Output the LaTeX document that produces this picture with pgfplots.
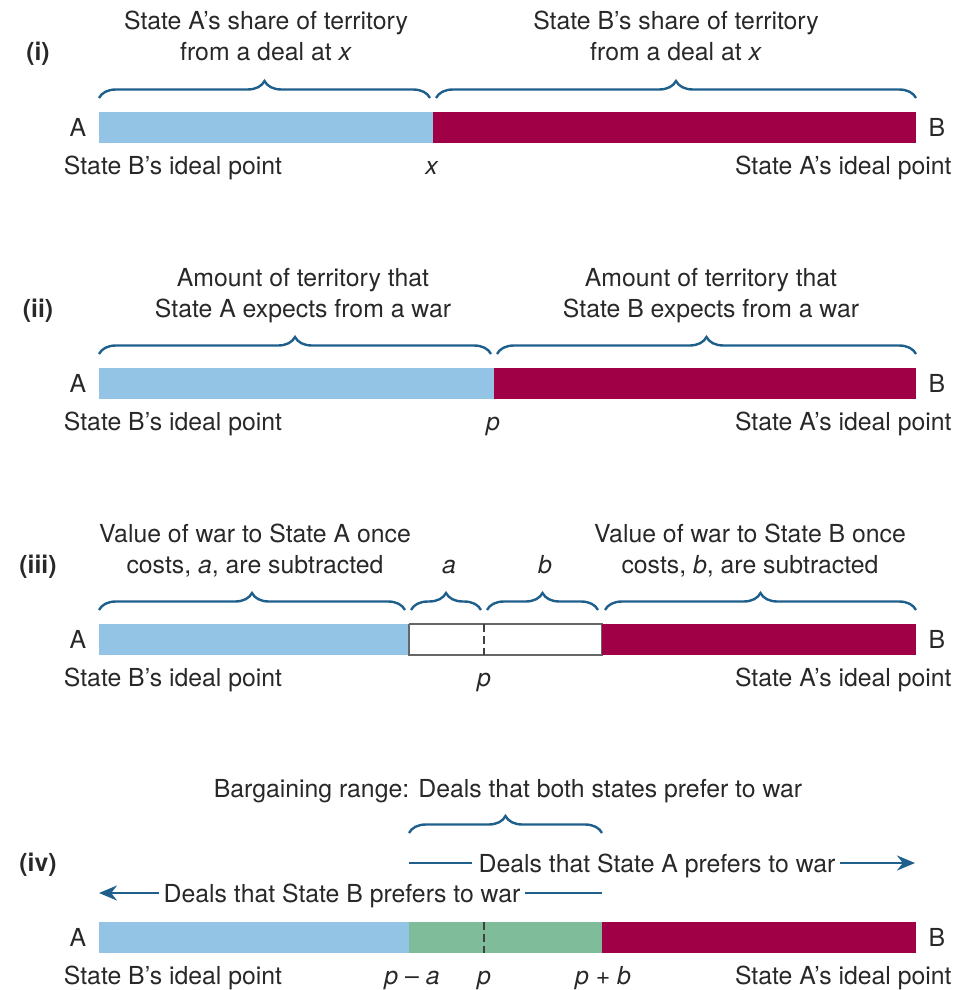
\documentclass[border=0pt]{standalone}
\usepackage{pgfplots}
\pgfplotsset{compat=1.18}
\usetikzlibrary{decorations.pathreplacing,arrows.meta}
\usepackage{fontspec}
\setmainfont{TeX Gyre Heros}
\definecolor{lblue}{RGB}{147,196,230}
\definecolor{wred}{RGB}{160,0,70}
\definecolor{lgreen}{RGB}{127,188,154}
\definecolor{brc}{RGB}{30,95,140}
\definecolor{txt}{RGB}{40,40,40}
\begin{document}
\begin{tikzpicture}[
  lab/.style={font=\fontsize{12.4}{14}\selectfont, text=txt, anchor=base, inner sep=0pt},
  brc/.style={decorate, decoration={brace, amplitude=8.5pt, raise=0pt}, draw=brc, line width=1.2pt},
  arr/.style={draw=brc, line width=1.2pt}
]
\begin{axis}[scale only axis, width=479.5pt, height=495pt,
  xmin=0, xmax=959, ymin=0, ymax=990, y dir=reverse, hide axis, clip=false]
\path (axis cs:0,0) rectangle (axis cs:959,990);
% ---------- Panel (i) ----------
\addplot[fill=lblue, draw=none] coordinates {(99,112) (433,112) (433,143) (99,143)};
\addplot[fill=wred, draw=none] coordinates {(433,112) (916,112) (916,143) (433,143)};
\draw[brc] (axis cs:99,98) -- (axis cs:430,98);
\draw[brc] (axis cs:436,98) -- (axis cs:916,98);
\node[lab] at (axis cs:266,30) {State A’s share of territory};
\node[lab] at (axis cs:266,61) {from a deal at \textit{x}};
\node[lab] at (axis cs:676,30) {State B’s share of territory};
\node[lab] at (axis cs:676,61) {from a deal at \textit{x}};
\node[lab, font=\fontsize{12.4}{14}\selectfont\bfseries] at (axis cs:38,61) {(i)};
\node[lab] at (axis cs:78,136) {A};
\node[lab] at (axis cs:937,136) {B};
\node[lab] at (axis cs:173,174) {State B’s ideal point};
\node[lab] at (axis cs:432,174) {\textit{x}};
\node[lab, anchor=base east] at (axis cs:952,174) {State A’s ideal point};
% ---------- Panel (ii) ----------
\addplot[fill=lblue, draw=none] coordinates {(99,368) (494,368) (494,399) (99,399)};
\addplot[fill=wred, draw=none] coordinates {(494,368) (916,368) (916,399) (494,399)};
\draw[brc] (axis cs:99,354) -- (axis cs:491,354);
\draw[brc] (axis cs:497,354) -- (axis cs:916,354);
\node[lab] at (axis cs:303,286) {Amount of territory that};
\node[lab] at (axis cs:303,317) {State A expects from a war};
\node[lab] at (axis cs:711,286) {Amount of territory that};
\node[lab] at (axis cs:711,317) {State B expects from a war};
\node[lab, font=\fontsize{12.4}{14}\selectfont\bfseries] at (axis cs:38,317) {(ii)};
\node[lab] at (axis cs:78,392) {A};
\node[lab] at (axis cs:937,392) {B};
\node[lab] at (axis cs:173,430) {State B’s ideal point};
\node[lab] at (axis cs:493,430) {\textit{p}};
\node[lab, anchor=base east] at (axis cs:952,430) {State A’s ideal point};
% ---------- Panel (iii) ----------
\addplot[fill=lblue, draw=none] coordinates {(99,624) (409,624) (409,655) (99,655)};
\addplot[fill=white, draw=gray!80!black, line width=0.8pt] coordinates {(409,624) (602,624) (602,655) (409,655) (409,624)};
\addplot[fill=wred, draw=none] coordinates {(602,624) (916,624) (916,655) (602,655)};
\addplot[draw=black!75, line width=0.8pt, dash pattern=on 4pt off 2pt] coordinates {(484,624) (484,655)};
\draw[brc] (axis cs:99,610) -- (axis cs:405,610);
\draw[brc] (axis cs:411,610) -- (axis cs:481,610);
\draw[brc] (axis cs:487,610) -- (axis cs:598,610);
\draw[brc] (axis cs:605,610) -- (axis cs:916,610);
\node[lab] at (axis cs:255,542) {Value of war to State A once};
\node[lab] at (axis cs:255,573) {costs, \textit{a}, are subtracted};
\node[lab] at (axis cs:449,573) {\textit{a}};
\node[lab] at (axis cs:545,573) {\textit{b}};
\node[lab] at (axis cs:750,542) {Value of war to State B once};
\node[lab] at (axis cs:750,573) {costs, \textit{b}, are subtracted};
\node[lab, font=\fontsize{12.4}{14}\selectfont\bfseries] at (axis cs:38,573) {(iii)};
\node[lab] at (axis cs:78,648) {A};
\node[lab] at (axis cs:937,648) {B};
\node[lab] at (axis cs:173,686) {State B’s ideal point};
\node[lab] at (axis cs:484,686) {\textit{p}};
\node[lab, anchor=base east] at (axis cs:952,686) {State A’s ideal point};
% ---------- Panel (iv) ----------
\addplot[fill=lblue, draw=none] coordinates {(99,922) (409,922) (409,953) (99,953)};
\addplot[fill=lgreen, draw=none] coordinates {(409,922) (602,922) (602,953) (409,953)};
\addplot[fill=wred, draw=none] coordinates {(602,922) (916,922) (916,953) (602,953)};
\addplot[draw=black!75, line width=0.8pt, dash pattern=on 4pt off 2pt] coordinates {(484,922) (484,953)};
\draw[brc] (axis cs:409,833) -- (axis cs:602,833);
\node[lab] at (axis cs:508,797) {Bargaining range: Deals that both states prefer to war};
\node[lab] at (axis cs:657,872) {Deals that State A prefers to war};
\draw[arr] (axis cs:409,863) -- (axis cs:472,863);
\draw[arr, -{Stealth[length=9pt,width=7.5pt]}] (axis cs:840,863) -- (axis cs:915,863);
\node[lab] at (axis cs:342,902) {Deals that State B prefers to war};
\draw[arr, -{Stealth[length=9pt,width=7.5pt]}] (axis cs:159,893) -- (axis cs:99,893);
\draw[arr] (axis cs:525,893) -- (axis cs:602,893);
\node[lab, font=\fontsize{12.4}{14}\selectfont\bfseries] at (axis cs:38,871) {(iv)};
\node[lab] at (axis cs:78,946) {A};
\node[lab] at (axis cs:937,946) {B};
\node[lab] at (axis cs:173,984) {State B’s ideal point};
\node[lab] at (axis cs:412,984) {\textit{p} – \textit{a}};
\node[lab] at (axis cs:484,984) {\textit{p}};
\node[lab] at (axis cs:603,984) {\textit{p} + \textit{b}};
\node[lab, anchor=base east] at (axis cs:952,984) {State A’s ideal point};
\end{axis}
\end{tikzpicture}
\end{document}
